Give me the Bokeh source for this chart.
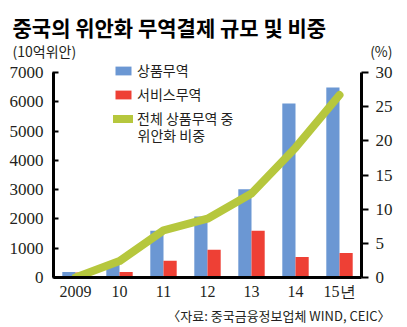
from bokeh.plotting import figure
from bokeh.layouts import column
from bokeh.models import (FactorRange, Range1d, LinearAxis, FixedTicker, Label,
                          Legend, LegendItem, ColumnDataSource)
from bokeh.transform import dodge
from bokeh.embed import file_html
from bokeh.resources import INLINE

# ---- data ----
years = ["2009", "10", "11", "12", "13", "14", "15년"]
goods = [190, 430, 1600, 2080, 3010, 5940, 6490]        # 상품무역 (10억위안)
services = [170, 190, 570, 950, 1600, 700, 840]         # 서비스무역 (10억위안)
share = [0.0, 2.4, 6.9, 8.6, 12.3, 19.0, 26.7]          # 위안화 비중 (%)
left_ticks = [0, 1000, 2000, 3000, 4000, 5000, 6000, 7000]
right_ticks = [0, 5, 10, 15, 20, 25, 30]

BLUE = "#6b97d3"
RED = "#ee4035"
GREEN = "#b6c73d"
TXT = "#231f20"
NUM_FONT = "Liberation Sans Narrow"
KR_FONT = "Noto Sans CJK KR"

W = 407
HEAD_H = 60
FRAME_H = 217          # main frame height (pixels)
BOT_B = 28             # bottom border of main chart
MAIN_H = FRAME_H + BOT_B
FOOT_H = 327 - HEAD_H - MAIN_H
TOP_PX = 205           # pixels from 0 to the top tick

def blank(h):
    f = figure(width=W, height=h, x_range=Range1d(0, 1), y_range=Range1d(0, 1),
               output_backend="svg", toolbar_location=None,
               x_axis_location=None, y_axis_location=None, frame_align=False,
               min_border_left=0, min_border_right=0, min_border_top=0, min_border_bottom=0)
    f.grid.visible = False
    f.outline_line_color = None
    return f

# ---- header ----
head = blank(HEAD_H)
head.add_layout(Label(x=12, y=HEAD_H - 26, x_units="screen", y_units="screen",
                      text="중국의 위안화 무역결제 규모 및 비중", text_font=KR_FONT,
                      text_font_size="21px", text_font_style="bold", text_color="black",
                      text_baseline="middle"))
head.add_layout(Label(x=12, y=HEAD_H - 50, x_units="screen", y_units="screen",
                      text="(10억위안)", text_font=KR_FONT, text_font_size="14px",
                      text_color=TXT, text_baseline="middle"))
head.add_layout(Label(x=392, y=HEAD_H - 50, x_units="screen", y_units="screen",
                      text="(%)", text_font=KR_FONT, text_font_size="14px",
                      text_color=TXT, text_baseline="middle", text_align="right"))

# ---- main chart ----
src = ColumnDataSource(dict(years=years, goods=goods, services=services, share=share))
y_end = left_ticks[-1] * FRAME_H / TOP_PX
pct_end = right_ticks[-1] * FRAME_H / TOP_PX

p = figure(width=W, height=MAIN_H, x_range=FactorRange(*years, range_padding=0),
           y_range=Range1d(0, y_end), output_backend="svg", toolbar_location=None,
           y_axis_location=None, frame_align=False,
           min_border_left=53, min_border_right=46, min_border_top=0,
           min_border_bottom=BOT_B)
p.extra_y_ranges = {"pct": Range1d(0, pct_end)}
p.xgrid.visible = False
p.ygrid.visible = False
p.outline_line_color = None

b1 = p.vbar(x=dodge("years", -0.15, range=p.x_range), top="goods", width=0.3,
            source=src, color=BLUE, line_color=None)
b2 = p.vbar(x=dodge("years", 0.15, range=p.x_range), top="services", width=0.3,
            source=src, color=RED, line_color=None)
ln = p.line(x="years", y="share", source=src, y_range_name="pct", line_width=8,
            line_color=GREEN, line_cap="round", line_join="round")

la = LinearAxis(ticker=FixedTicker(ticks=left_ticks), bounds=(left_ticks[0], left_ticks[-1]))
ra = LinearAxis(y_range_name="pct", ticker=FixedTicker(ticks=right_ticks),
                bounds=(right_ticks[0], right_ticks[-1]))
for ax, tin, tout, sto in ((la, 5, 1, 9), (ra, 0, 7, 7)):
    ax.axis_line_width = 3
    ax.axis_line_color = "black"
    ax.major_tick_line_width = 2
    ax.major_tick_line_color = "black"
    ax.major_tick_in = tin
    ax.major_tick_out = tout
    ax.minor_tick_line_color = None
    ax.major_label_standoff = sto
    ax.major_label_text_font = NUM_FONT
    ax.major_label_text_font_size = "17px"
    ax.major_label_text_color = TXT
p.add_layout(la, "left")
p.add_layout(ra, "right")

xa = p.xaxis[0]
xa.axis_line_width = 3
xa.axis_line_color = "black"
xa.major_tick_line_color = None
xa.minor_tick_line_color = None
xa.major_tick_in = 0
xa.major_tick_out = 0
xa.major_label_standoff = 5
xa.major_label_text_font = NUM_FONT
xa.major_label_text_font_size = "16px"
xa.major_label_text_color = TXT

legend = Legend(items=[LegendItem(label="상품무역", renderers=[b1]),
                       LegendItem(label="서비스무역", renderers=[b2]),
                       LegendItem(label="전체 상품무역 중", renderers=[ln])],
                location=(60, 149), orientation="vertical")
legend.padding = 0
legend.margin = 0
legend.spacing = 4
legend.border_line_color = None
legend.background_fill_alpha = 0
legend.glyph_width = 20
legend.glyph_height = 11
legend.label_height = 12
legend.label_standoff = 4
legend.label_text_font = KR_FONT
legend.label_text_font_size = "14px"
legend.label_text_color = TXT
p.add_layout(legend)
# second line of the third legend label
p.add_layout(Label(x=84, y=143, x_units="screen", y_units="screen",
                   text="위안화 비중", text_font=KR_FONT, text_font_size="14px",
                   text_color=TXT, text_baseline="middle"))

# ---- footer ----
foot = blank(FOOT_H)
foot.add_layout(Label(x=390, y=FOOT_H - 10, x_units="screen", y_units="screen",
                      text="〈자료: 중국금융정보업체 WIND, CEIC〉", text_font=KR_FONT,
                      text_font_size="13px", text_color=TXT, text_baseline="middle",
                      text_align="right"))

layout = column(head, p, foot, spacing=0)
open("out.html", "w").write(file_html(layout, INLINE))
